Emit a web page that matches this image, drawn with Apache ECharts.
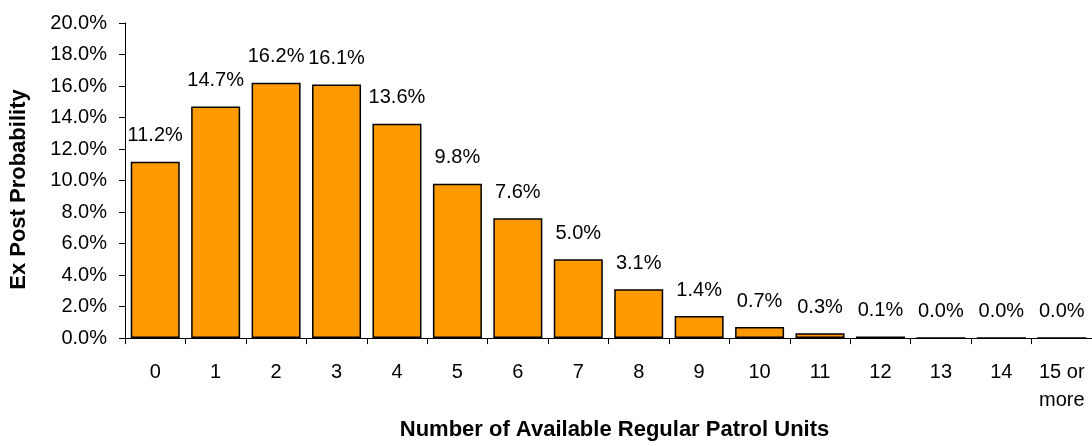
<!DOCTYPE html>
<html>
<head>
<meta charset="utf-8">
<script src="https://cdn.jsdelivr.net/npm/echarts@6/dist/echarts.min.js"></script>
<style>
  html, body { margin: 0; padding: 0; background: #fff; }
  #chart-container { width: 1092px; height: 446px; }
</style>
</head>
<body>
<div id="chart-container"></div>
<script>
// data
let categories = ['0','1','2','3','4','5','6','7','8','9','10','11','12','13','14','15 or\nmore']
let probability = [11.2, 14.7, 16.2, 16.1, 13.6, 9.8, 7.6, 5.0, 3.1, 1.4, 0.7, 0.3, 0.1, 0.0, 0.0, 0.0]
let yTicks = [0, 2, 4, 6, 8, 10, 12, 14, 16, 18, 20]

let fontName = '"Liberation Sans", Arial, sans-serif'

function createChart(id) {
    var dom = document.getElementById(id);
    var barChart = echarts.init(dom, null, {
        renderer: 'canvas',
        useDirtyRect: false
    });
    var option = {
        animation: false,
        grid: {
            left: 125,
            right: 0,
            top: 23,
            bottom: 72
        },
        xAxis: {
            type: 'category',
            data: categories,
            name: 'Number of Available Regular Patrol Units',
            nameLocation: 'middle',
            nameGap: 50,
            nameTextStyle: {
                color: '#000',
                fontFamily: fontName,
                fontSize: 22,
                fontWeight: 'bold',
                padding: [0, 0, 0, 12]
            },
            axisLine: { lineStyle: { color: '#000', width: 1 } },
            axisTick: { show: true, length: 6, inside: false, lineStyle: { color: '#000' } },
            axisLabel: {
                color: '#000',
                fontFamily: fontName,
                fontSize: 20,
                margin: 20,
                lineHeight: 28,
                interval: 0
            }
        },
        yAxis: {
            type: 'value',
            min: yTicks[0],
            max: yTicks[yTicks.length - 1],
            interval: 2,
            name: 'Ex Post Probability',
            nameLocation: 'middle',
            nameGap: 95,
            nameRotate: 90,
            nameTextStyle: {
                color: '#000',
                fontFamily: fontName,
                fontSize: 22,
                fontWeight: 'bold',
                padding: [0, 18, 0, 0]
            },
            axisLine: { show: true, lineStyle: { color: '#000', width: 1 } },
            axisTick: { show: true, length: 6, lineStyle: { color: '#000' } },
            splitLine: { show: false },
            axisLabel: {
                color: '#000',
                fontFamily: fontName,
                fontSize: 20,
                margin: 18,
                formatter: function (v) { return v.toFixed(1) + '%' }
            }
        },
        series: [
            {
                type: 'bar',
                data: probability,
                barWidth: 49,
                itemStyle: {
                    color: '#FF9900',
                    borderColor: '#000',
                    borderWidth: 1.5
                },
                label: {
                    show: true,
                    position: 'top',
                    distance: 16,
                    color: '#000',
                    fontFamily: fontName,
                    fontSize: 20,
                    formatter: function (p) { return p.value.toFixed(1) + '%' }
                }
            }
        ]
    };
    barChart.setOption(option);
}

createChart('chart-container')
</script>
</body>
</html>
